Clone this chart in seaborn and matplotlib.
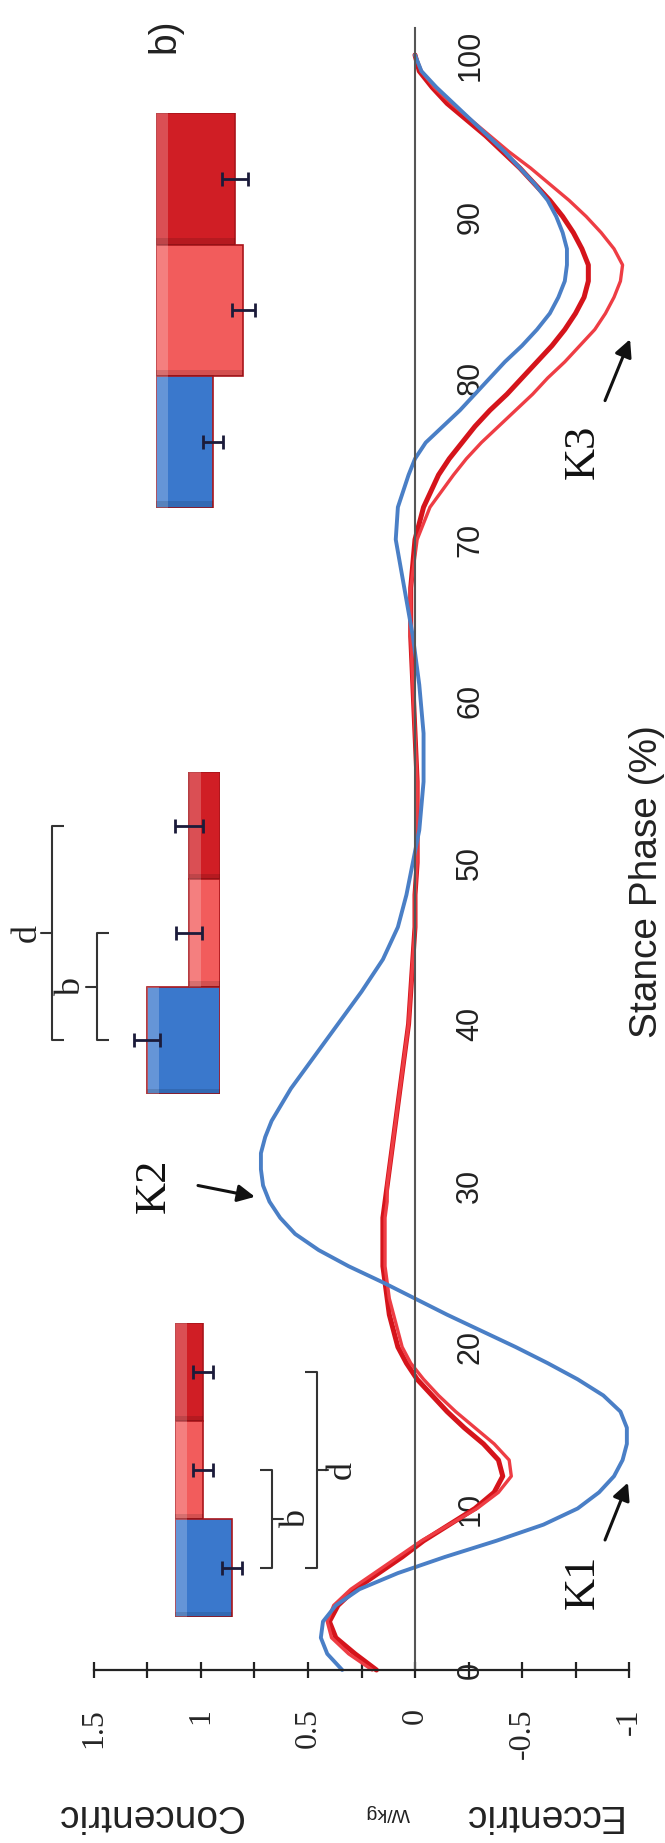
import numpy as np
import pandas as pd
import matplotlib
matplotlib.use('Agg')
import matplotlib.pyplot as plt
from matplotlib.patches import Rectangle
import seaborn as sns

W, H = 665, 1843

# stance phase (%) where the curves were read
stance = [0, 1, 2, 3, 4, 5, 6, 7, 8, 9, 10, 11, 12, 13, 14, 15, 16, 17, 18, 19, 20,
          21, 22, 23, 24, 25, 26, 27, 28, 29, 30, 31, 32, 33, 34, 36, 38, 40, 42, 44,
          46, 48, 50, 52, 55, 58, 61, 64, 67, 70, 72, 74, 75, 76, 77, 78, 79, 80, 81,
          82, 83, 84, 85, 86, 87, 88, 89, 90, 91, 92, 93, 94, 95, 96, 97, 98, 99, 100]

# knee power (W/kg)
power_blue = [0.34, 0.41, 0.44, 0.43, 0.37, 0.26, 0.08, -0.14, -0.38, -0.60, -0.76,
              -0.86, -0.93, -0.97, -0.99, -0.99, -0.96, -0.88, -0.76, -0.62, -0.47,
              -0.31, -0.15, 0.00, 0.15, 0.31, 0.45, 0.56, 0.63, 0.68, 0.71, 0.72, 0.72,
              0.70, 0.67, 0.58, 0.47, 0.36, 0.25, 0.15, 0.08, 0.04, 0.01, -0.02, -0.04,
              -0.04, -0.02, 0.01, 0.05, 0.09, 0.08, 0.03, 0.00, -0.05, -0.13, -0.21,
              -0.28, -0.35, -0.42, -0.50, -0.57, -0.63, -0.67, -0.70, -0.71, -0.71,
              -0.69, -0.66, -0.62, -0.56, -0.49, -0.42, -0.34, -0.26, -0.18, -0.10,
              -0.03, 0.00]
power_light = [0.20, 0.31, 0.39, 0.41, 0.38, 0.30, 0.19, 0.08, -0.03, -0.16, -0.29,
               -0.39, -0.45, -0.44, -0.37, -0.28, -0.19, -0.11, -0.04, 0.02, 0.06,
               0.08, 0.10, 0.12, 0.13, 0.14, 0.14, 0.14, 0.14, 0.13, 0.13, 0.12, 0.11,
               0.10, 0.09, 0.07, 0.05, 0.03, 0.02, 0.01, 0.00, 0.00, -0.01, -0.01, -0.01,
               0.00, 0.01, 0.02, 0.02, -0.01, -0.07, -0.18, -0.24, -0.31, -0.39, -0.47,
               -0.55, -0.62, -0.70, -0.77, -0.84, -0.89, -0.93, -0.96, -0.97, -0.93,
               -0.87, -0.80, -0.72, -0.63, -0.54, -0.44, -0.35, -0.26, -0.17, -0.09,
               -0.03, 0.00]
power_dark = [0.18, 0.28, 0.37, 0.40, 0.36, 0.28, 0.17, 0.06, -0.04, -0.16, -0.28,
              -0.37, -0.41, -0.39, -0.32, -0.23, -0.15, -0.08, -0.01, 0.04, 0.08,
              0.10, 0.12, 0.13, 0.14, 0.15, 0.15, 0.15, 0.15, 0.14, 0.13, 0.12, 0.11,
              0.10, 0.09, 0.07, 0.05, 0.03, 0.02, 0.01, 0.00, 0.00, -0.01, -0.01, -0.01,
              0.00, 0.01, 0.02, 0.02, 0.00, -0.04, -0.11, -0.16, -0.22, -0.28, -0.35,
              -0.43, -0.50, -0.57, -0.64, -0.70, -0.75, -0.79, -0.81, -0.81, -0.78,
              -0.74, -0.69, -0.63, -0.56, -0.49, -0.41, -0.33, -0.24, -0.15, -0.08,
              -0.02, 0.00]

# inset bars (blue, light red, dark red) and their error bars
conds = ['blue', 'light', 'dark']
k1_vals = [0.57, 0.28, 0.28]
k1_err = [0.10, 0.10, 0.10]
k2_vals = [0.73, 0.31, 0.31]
k2_err = [0.13, 0.13, 0.14]
k3_vals = [0.57, 0.87, 0.79]
k3_err = [0.10, 0.115, 0.13]

power_ticks = [-1, -0.5, 0, 0.5, 1, 1.5]
power_labels = ['-1', '-0.5', '0', '0.5', '1', '1.5']
stance_ticks = [0, 10, 20, 30, 40, 50, 60, 70, 80, 90, 100]

line_colors = {'dark': '#d5141b', 'light': '#ee3d44', 'blue': '#4a7fc6'}
line_widths = {'dark': 3.6, 'light': 2.4, 'blue': 2.8}
bar_colors = {'blue': '#3a78cc', 'light': '#f25c5c', 'dark': '#d01e25'}
bar_edges = {'blue': '#2b62b0', 'light': '#de4a4a', 'dark': '#a9151b'}

SERIF = ['Liberation Serif', 'DejaVu Serif']
SANS = ['Liberation Sans', 'DejaVu Sans']

sns.set_style('white')
plt.rcParams['font.family'] = SANS

# pixel geometry of the rotated chart
ZX, PXP = 415, 214.0     # px of 0 W/kg, px per W/kg (power grows to the left)
ZY, PXS = 1670, 16.15    # px of 0 % stance, px per %
PX = 100.0               # px per unit in the bar insets

fig = plt.figure(figsize=(W / 100, H / 100), dpi=100)
ax = fig.add_axes([0, 0, 1, 1])
ax.set_facecolor('none')

df = pd.DataFrame({
    'stance': stance * 3,
    'power': power_dark + power_light + power_blue,
    'group': ['dark'] * len(stance) + ['light'] * len(stance) + ['blue'] * len(stance),
})
for g in ['dark', 'light', 'blue']:
    sns.lineplot(data=df[df['group'] == g], x='power', y='stance', orient='y',
                 estimator=None, color=line_colors[g], lw=line_widths[g], ax=ax,
                 solid_capstyle='round')

ax.set_xlim(ZX / PXP, (ZX - W) / PXP)
ax.set_ylim((ZY - H) / PXS, ZY / PXS)
ax.set_xlabel('')
ax.set_ylabel('')

# axes: power axis drawn at 0 % stance, stance axis is the zero-power line
for side in ['left', 'top']:
    ax.spines[side].set_visible(False)
ax.spines['bottom'].set_position(('data', 0))
ax.spines['bottom'].set_bounds(-1, 1.5)
ax.spines['bottom'].set_color('#222222')
ax.spines['bottom'].set_linewidth(1.6)
ax.spines['right'].set_position(('data', 0))
ax.spines['right'].set_bounds(0, 101.7)
ax.spines['right'].set_color('#555555')
ax.spines['right'].set_linewidth(1.5)

ax.set_xticks(power_ticks, labels=power_labels, rotation=90, ha='center', va='top',
              fontsize=23, family=SERIF)
ax.set_xticks(np.arange(-1, 1.51, 0.25), minor=True)
ax.tick_params(axis='x', which='both', bottom=True, direction='inout', length=11,
               width=1.6, color='#222222', pad=22)

ax.yaxis.tick_right()
ax.set_yticks(stance_ticks, labels=[str(t) for t in stance_ticks], rotation=90,
              va='center', fontsize=22, family=SANS)
ax.tick_params(axis='y', length=0, pad=29, labelcolor='#222222')

ax.text(-1.084, 48.8, 'Stance Phase (%)', rotation=90, ha='center', va='center',
        fontsize=28, family=SANS, color='#222222')
ax.text(1.243, -9.0, 'Concentric', rotation=180, ha='center', va='center',
        fontsize=28, family=SANS, color='#222222', clip_on=False)
ax.text(0.13, -8.8, 'W/kg', rotation=180, ha='center', va='center',
        fontsize=14, family=SANS, color='#222222', clip_on=False)
ax.text(-0.59, -9.0, 'Eccentric', rotation=180, ha='center', va='center',
        fontsize=28, family=SANS, color='#222222', clip_on=False)

ax.text(1.17, 101.2, 'b)', rotation=90, ha='center', va='center', fontsize=28,
        family=SANS, color='#222222')

# peak labels with arrows
peaks = [('K1', (-0.785, 5.45), (-0.888, 8.05), (-0.995, 11.6)),
         ('K2', (1.22, 30.0), (1.014, 30.0), (0.748, 29.3)),
         ('K3', (-0.785, 75.4), (-0.888, 78.6), (-1.005, 82.4))]
for name, tpos, tail, head in peaks:
    ax.text(tpos[0], tpos[1], name, rotation=90, ha='center', va='center',
            fontsize=32, family=SERIF, color='#111111')
    ax.annotate('', xy=head, xytext=tail,
                arrowprops=dict(arrowstyle='-|>', color='#111111', lw=2.2,
                                mutation_scale=26, shrinkA=0, shrinkB=0))


def inset(x0, y0, x1, y1):
    a = fig.add_axes([x0 / W, 1 - y1 / H, (x1 - x0) / W, (y1 - y0) / H])
    a.set_facecolor('none')
    return a


def bevel(a, reverse):
    # light strip on the upper (left on the page) side and a dark lower rim,
    # imitating the 3-D bars of the original
    for p in list(a.patches):
        x, y, w, h = p.get_x(), p.get_y(), p.get_width(), p.get_height()
        sx = x + w - 0.12 if reverse else x
        a.add_patch(Rectangle((sx, y), 0.12, h, facecolor='white', alpha=0.22,
                              lw=0, zorder=p.get_zorder() + 0.1))
        a.add_patch(Rectangle((x, y + h - 0.05), w, 0.05, facecolor='black',
                              alpha=0.12, lw=0, zorder=p.get_zorder() + 0.1))


def bar_group(a, vals, errs, brackets, reverse=False, span=1.9):
    order = ['dark', 'light', 'blue']
    bdf = pd.DataFrame({'cond': conds, 'value': vals, 'err': errs})
    sns.barplot(data=bdf, x='value', y='cond', hue='cond', order=order,
                hue_order=order, palette=bar_colors, orient='h', width=1.0,
                saturation=1, errorbar=None, legend=False, ax=a, linewidth=1.2,
                edgecolor=[bar_edges[c] for c in order])
    bevel(a, reverse)
    bdf = bdf.set_index('cond').loc[order]
    a.errorbar(bdf['value'], range(len(order)), xerr=bdf['err'], fmt='none',
               ecolor='#1b1b3a', elinewidth=2, capsize=5, capthick=2, zorder=5)
    for i, j, pos, lab in brackets:
        a.plot([pos - 0.12, pos, pos, pos - 0.12], [i, i, j, j], color='#333333',
               lw=1.5, solid_capstyle='butt')
        mid = (i + j) / 2
        a.plot([pos, pos + 0.11], [mid, mid], color='#333333', lw=1.5)
        a.text(pos + 0.25, mid, lab, rotation=90, ha='center', va='center',
               fontsize=26, family=SERIF, color='#222222')
    a.set_ylim(2.5, -0.5)
    a.set_xlim((span, 0) if reverse else (0, span))
    a.axis('off')


# K1 bars: baseline at px 175, growing right (eccentric)
bar_group(inset(175, 1323, 175 + 1.9 * PX, 1617), k1_vals, k1_err,
          [(1, 2, 0.97, 'b'), (0, 2, 1.42, 'd')])
# K2 bars: baseline at px 220, growing left (concentric)
bar_group(inset(220 - 2.15 * PX, 772, 220, 1094), k2_vals, k2_err,
          [(1, 2, 1.23, 'b'), (0, 2, 1.68, 'd')], reverse=True, span=2.15)
# K3 bars: baseline at px 156
bar_group(inset(156, 113, 156 + 1.1 * PX, 508), k3_vals, k3_err, [], span=1.1)

fig.savefig('out.png', dpi=100)
